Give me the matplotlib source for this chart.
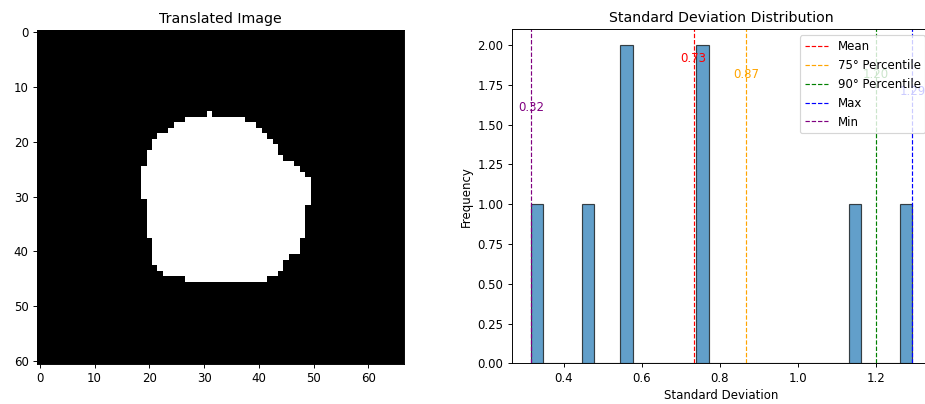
import numpy as np
import matplotlib
matplotlib.use("Agg")
import matplotlib.pyplot as plt

# ---------------- data ----------------
img_height = 61
img_width = 67
mask_rows  = [15, 16, 17, 18, 19, 20, 21, 22, 23, 24, 25, 26, 27, 28, 29, 30,
              31, 32, 33, 34, 35, 36, 37, 38, 39, 40, 41, 42, 43, 44, 45]
mask_start = [31, 27, 25, 24, 22, 21, 21, 20, 20, 20, 19, 19, 19, 19, 19, 19,
              20, 20, 20, 20, 20, 20, 20, 21, 21, 21, 21, 21, 22, 23, 27]
mask_end   = [31, 37, 39, 40, 41, 42, 43, 43, 44, 46, 47, 48, 49, 49, 49, 49,
              49, 48, 48, 48, 48, 48, 48, 47, 47, 47, 45, 44, 44, 43, 41]

std_values = [0.316, 0.46, 0.555, 0.565, 0.745, 0.771, 1.16, 1.293]
n_bins = 30
stat_labels = ["Mean", "75° Percentile", "90° Percentile", "Max", "Min"]
stat_colors = ["red", "orange", "green", "blue", "purple"]

# ---------------- figure ----------------
W, H, DPI = 925, 404, 85
fig = plt.figure(figsize=(W / DPI, H / DPI), dpi=DPI)

# left: image
mask = np.zeros((img_height, img_width))
for r, s, e in zip(mask_rows, mask_start, mask_end):
    mask[r, s:e + 1] = 1.0

ax1 = fig.add_axes([37 / W, 1 - 363.8 / H, 367 / W, (363.8 - 29.6) / H])
ax1.imshow(mask, cmap="gray", vmin=0, vmax=1)
ax1.set_title("Translated Image")

# right: histogram
ax2 = fig.add_axes([511.7 / W, 1 - 363.3 / H, 419.7 / W, (363.3 - 29.3) / H])
vals = np.array(std_values)
ax2.hist(vals, bins=n_bins, color="C0", alpha=0.7, edgecolor="black")

stats = [vals.mean(), np.percentile(vals, 75), np.percentile(vals, 90),
         vals.max(), vals.min()]
text_frac = [0.914, 0.864, 0.864, 0.814, 0.765]
ymax = ax2.get_ylim()[1]
for v, lab, col, fr in zip(stats, stat_labels, stat_colors, text_frac):
    ax2.axvline(v, color=col, linestyle="--", linewidth=1, label=lab)
    ax2.text(v, ymax * fr, f"{v:.2f}", color=col, ha="center", va="center")

ax2.set_title("Standard Deviation Distribution")
ax2.set_xlabel("Standard Deviation")
ax2.set_ylabel("Frequency")
ax2.legend(loc="upper right")

fig.savefig("out.png", dpi=DPI)
